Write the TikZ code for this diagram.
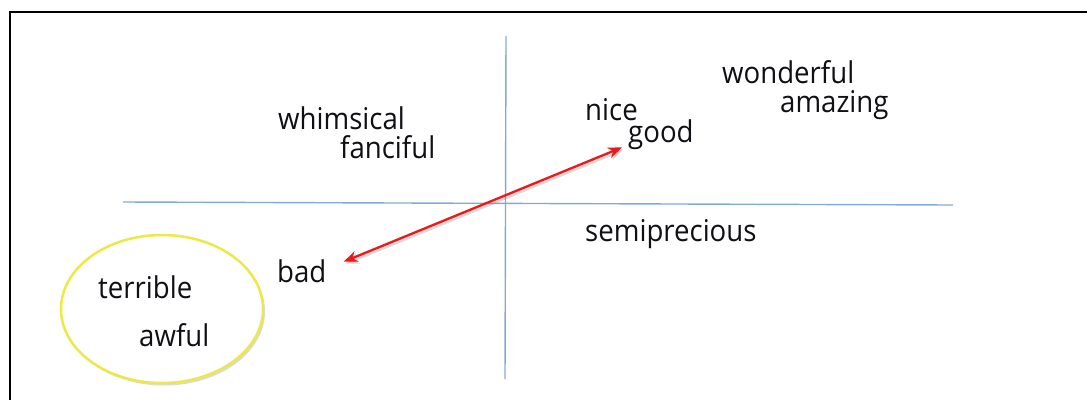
\documentclass[tikz,border=0pt]{standalone}
\usepackage{fontspec}
\setmainfont[FakeStretch=0.92]{Open Sans}
\usetikzlibrary{shapes.geometric,shadows,arrows.meta}
\definecolor{axisblue}{RGB}{130,170,215}
\definecolor{arrowred}{RGB}{235,25,25}
\definecolor{ringyellow}{RGB}{238,232,70}
\definecolor{wordink}{RGB}{15,15,20}
\tikzset{
  word/.style={inner sep=0pt, anchor=base west, text=wordink, font=\fontsize{30}{36}\selectfont},
  axisline/.style={draw=axisblue, line width=1.4pt},
  frameline/.style={draw=black, line width=2pt},
  pairarrow/.style={draw=arrowred, line width=2.3pt, {Stealth[length=14pt,width=11pt]}-{Stealth[length=14pt,width=11pt]},
    preaction={draw=black!60, opacity=0.25, line width=3pt, transform canvas={shift={(1.5pt,-2pt)}}}},
  ring/.style={ellipse, draw=ringyellow, line width=2.5pt, fill=white, minimum width=202pt, minimum height=148pt,
    drop shadow={opacity=0.3, shadow xshift=2pt, shadow yshift=-2.5pt}}
}
\begin{document}
\begin{tikzpicture}[x=1pt,y=-1pt]
\useasboundingbox (0,0) rectangle (1087,400);
% frame
\coordinate (fbl) at (10,400);
\coordinate (ftl) at (10,12);
\coordinate (ftr) at (1087,12);
\draw[frameline] (fbl) -- (ftl) -- (ftr);
% axes
\coordinate (hl) at (123,202);
\coordinate (hr) at (953,205);
\coordinate (vt) at (506,36);
\coordinate (vb) at (505,379);
\draw[axisline] (hl) -- (hr);
\draw[axisline] (vt) -- (vb);
% ellipse group
\node[ring] (grp) at (162,309) {};
% words
\node[word] (whimsical) at (278,129) {whimsical};
\node[word] (fanciful) at (340,158) {fanciful};
\node[word] (nice) at (585,120) {nice};
\node[word] (good) at (628,142) {good};
\node[word] (wonderful) at (722,83) {wonderful};
\node[word] (amazing) at (780,112) {amazing};
\node[word] (semiprecious) at (585,241) {semiprecious};
\node[word] (bad) at (277,282) {bad};
\node[word] (terrible) at (98,298) {terrible};
\node[word] (awful) at (139,346) {awful};
% arrow
\draw[pairarrow] ([xshift=17pt,yshift=9pt]bad.east) -- ([xshift=-6pt,yshift=2pt]good.south west);
\end{tikzpicture}
\end{document}
